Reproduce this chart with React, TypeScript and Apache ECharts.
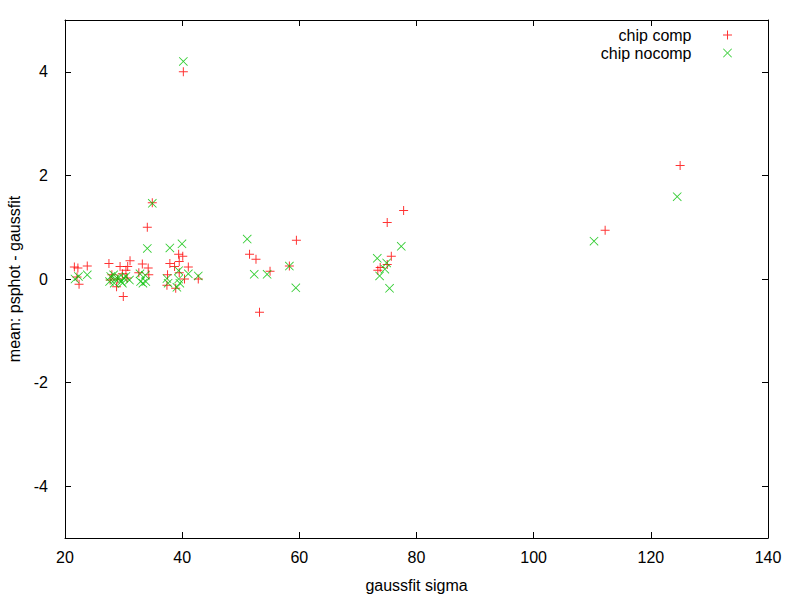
import React, { useEffect, useRef } from "react";
import * as echarts from "echarts";

const xTicks = [20, 40, 60, 80, 100, 120, 140];
const yTicks = [-4, -2, 0, 2, 4];
const seriesNames = ["chip comp", "chip nocomp"];

const chipComp: number[][] = [
  [21.6, 0.23], [22.2, 0.21], [23.8, 0.25], [22.4, -0.1], [22.05, 0.04],
  [27.5, 0.3], [29.4, 0.24], [31.1, 0.35], [30.7, 0.24], [30.4, 0.17], [29.95, -0.34],
  [28.0, 0.08], [28.8, -0.15], [27.7, -0.02], [29.8, 0.1], [30.6, 0.02], [29.0, 0.0],
  [33.2, 0.29], [32.6, 0.12], [34.2, 0.21], [34.3, 0.08], [34.05, 1.0], [34.9, 1.47],
  [39.4, 0.48], [40.1, 0.44], [37.9, 0.3], [38.7, 0.24], [41.05, 0.23], [39.5, 0.12],
  [40.4, 0.0], [42.75, 0.0], [37.5, 0.08], [37.4, -0.12], [38.9, -0.18], [39.5, 0.34],
  [40.2, 4.0],
  [59.5, 0.75], [51.5, 0.48], [52.6, 0.38], [55.0, 0.15], [58.3, 0.25], [53.2, -0.64],
  [77.8, 1.32], [75.0, 1.09], [75.7, 0.44], [75.0, 0.28], [73.8, 0.22], [73.4, 0.17],
  [125.0, 2.19], [112.2, 0.94],
];

const chipNocomp: number[][] = [
  [21.7, 0.0], [22.3, 0.05], [23.8, 0.08],
  [27.8, 0.05], [28.3, 0.08], [28.6, 0.0], [29.2, 0.03], [29.6, -0.05], [30.0, 0.02],
  [30.4, 0.05], [31.0, -0.02], [28.4, -0.08], [29.8, -0.08], [27.6, -0.05],
  [32.8, 0.1], [33.7, 0.07], [32.9, -0.05], [33.8, -0.05], [33.3, -0.08],
  [34.05, 0.59], [34.9, 1.46],
  [37.9, 0.6], [39.97, 0.68], [42.75, 0.06], [41.05, 0.1], [39.4, 0.0], [39.6, -0.08],
  [37.6, -0.08], [39.1, -0.16], [39.4, 0.16], [37.4, 0.01],
  [40.2, 4.2],
  [51.1, 0.77], [52.3, 0.09], [54.5, 0.09], [58.3, 0.25], [59.4, -0.17],
  [77.4, 0.63], [73.3, 0.4], [74.9, 0.31], [74.6, 0.19], [73.7, 0.06], [75.4, -0.18],
  [124.5, 1.59], [110.3, 0.73],
];

const PLUS = "path://M4,0h1v4h4v1h-4v4h-1v-4h-4v-1h4z";
const CROSS =
  "path://M0,0.6L0.6,0L4.5,3.9L8.4,0L9,0.6L5.1,4.5L9,8.4L8.4,9L4.5,5.1L0.6,9L0,8.4L3.9,4.5Z";

const FONT = "Liberation Sans";
const FS = 16;

export default function App() {
  const ref = useRef<HTMLDivElement>(null);
  useEffect(() => {
    if (!ref.current) return;
    const chart = echarts.init(ref.current, undefined, { renderer: "svg" });
    const axisLine = { show: true, onZero: false, lineStyle: { color: "#000", width: 1 } };
    const tick = { show: true, inside: true, length: 6, lineStyle: { color: "#000" } };
    const label = { color: "#000", fontFamily: FONT, fontSize: FS };
    const legendBase = {
      orient: "vertical" as const,
      align: "right" as const,
      right: 63,
      itemWidth: 62,
      itemHeight: 9,
      textStyle: { color: "#000", fontFamily: FONT, fontSize: FS },
    };
    chart.setOption({
      animation: false,
      backgroundColor: "#fff",
      grid: {
        left: 65,
        right: 32,
        top: 20,
        bottom: 62,
        containLabel: false,
        outerBoundsMode: "none",
      },
      legend: [
        { ...legendBase, top: 22, data: [seriesNames[0]] },
        { ...legendBase, top: 40, data: [seriesNames[1]] },
      ],
      xAxis: [
        {
          type: "value",
          min: 20,
          max: 140,
          interval: 20,
          name: "gaussfit sigma",
          nameLocation: "middle",
          nameGap: 39,
          nameTextStyle: { color: "#000", fontFamily: FONT, fontSize: FS },
          axisLine,
          axisTick: tick,
          axisLabel: { ...label, margin: 11, customValues: xTicks },
          splitLine: { show: false },
        },
        {
          type: "value",
          position: "top",
          min: 20,
          max: 140,
          interval: 20,
          axisLine,
          axisTick: tick,
          axisLabel: { show: false },
          splitLine: { show: false },
        },
      ],
      yAxis: [
        {
          type: "value",
          min: -5,
          max: 5,
          interval: 1,
          name: "mean: psphot - gaussfit",
          nameLocation: "middle",
          nameGap: 43,
          nameTextStyle: { color: "#000", fontFamily: FONT, fontSize: FS },
          axisLine,
          axisTick: { ...tick, customValues: yTicks },
          axisLabel: { ...label, margin: 17, customValues: yTicks },
          splitLine: { show: false },
        },
        {
          type: "value",
          position: "right",
          min: -5,
          max: 5,
          interval: 1,
          axisLine,
          axisTick: { ...tick, customValues: yTicks },
          axisLabel: { show: false },
          splitLine: { show: false },
        },
      ],
      series: [
        {
          name: seriesNames[0],
          type: "scatter",
          xAxisIndex: 0,
          yAxisIndex: 0,
          symbol: PLUS,
          symbolSize: 9,
          itemStyle: { color: "#ff0000" },
          data: chipComp,
        },
        {
          name: seriesNames[1],
          type: "scatter",
          xAxisIndex: 0,
          yAxisIndex: 0,
          symbol: CROSS,
          symbolSize: 9,
          itemStyle: { color: "#00c000" },
          data: chipNocomp,
        },
      ],
    });
    return () => chart.dispose();
  }, []);
  return (
    <div
      ref={ref}
      style={{ position: "fixed", left: 0, top: 0, width: 800, height: 600, background: "#fff" }}
    />
  );
}
